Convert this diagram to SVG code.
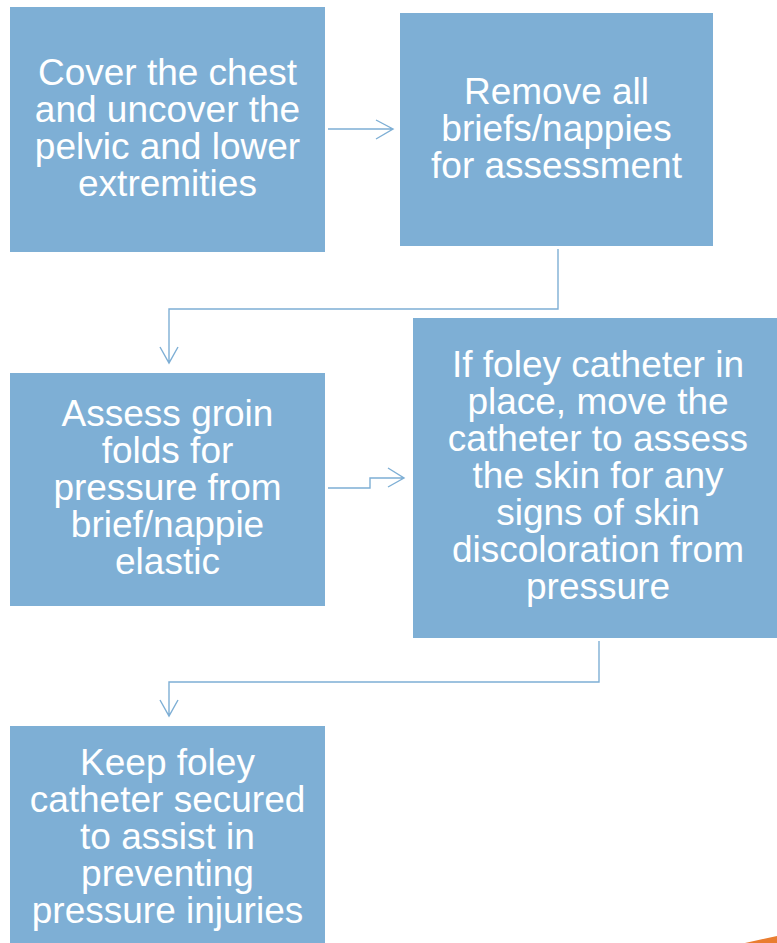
<svg xmlns="http://www.w3.org/2000/svg" width="777" height="943" viewBox="0 0 777 943">
<style>
.box{fill:#7eafd5}
.t{font-family:"Liberation Sans",Arial,sans-serif;font-size:37px;fill:#fff;text-anchor:middle}
.c{fill:none;stroke:#7eafd5;stroke-width:1.4}
</style>
<rect width="777" height="943" fill="#fff"/>
<g id="n1"><rect class="box" x="10" y="7" width="315" height="245"/>
<text class="t"><tspan x="167.5" y="85">Cover the chest</tspan><tspan x="167.5" y="122">and uncover the</tspan><tspan x="167.5" y="159">pelvic and lower</tspan><tspan x="167.5" y="196">extremities</tspan></text></g>
<g id="n2"><rect class="box" x="400" y="13" width="313" height="233"/>
<text class="t"><tspan x="556.5" y="104">Remove all</tspan><tspan x="556.5" y="141">briefs/nappies</tspan><tspan x="556.5" y="178">for assessment</tspan></text></g>
<g id="n3"><rect class="box" x="10" y="373" width="315" height="233"/>
<text class="t"><tspan x="167.5" y="426">Assess groin</tspan><tspan x="167.5" y="463">folds for</tspan><tspan x="167.5" y="500">pressure from</tspan><tspan x="167.5" y="537">brief/nappie</tspan><tspan x="167.5" y="574">elastic</tspan></text></g>
<g id="n4"><rect class="box" x="413" y="318" width="364" height="320"/>
<text class="t"><tspan x="598" y="377">If foley catheter in</tspan><tspan x="598" y="414">place, move the</tspan><tspan x="598" y="451">catheter to assess</tspan><tspan x="598" y="488">the skin for any</tspan><tspan x="598" y="525">signs of skin</tspan><tspan x="598" y="562">discoloration from</tspan><tspan x="598" y="599">pressure</tspan></text></g>
<g id="n5"><rect class="box" x="10" y="726" width="315" height="217"/>
<text class="t"><tspan x="167.5" y="775">Keep foley</tspan><tspan x="167.5" y="812">catheter secured</tspan><tspan x="167.5" y="849">to assist in</tspan><tspan x="167.5" y="886">preventing</tspan><tspan x="167.5" y="923">pressure injuries</tspan></text></g>
<g id="connectors">
<path class="c" d="M328 129H393M376 120L393 129L376 139"/>
<path class="c" d="M558 249V309H169V363M160 347L169 363L178 347"/>
<path class="c" d="M328 488H370V478H404M388 468L404 478L388 487"/>
<path class="c" d="M599 641V682H169V716M160 700L169 716L178 700"/>
</g>
<polygon points="745,943 777,936 777,943" fill="#e97d30"/>
</svg>
